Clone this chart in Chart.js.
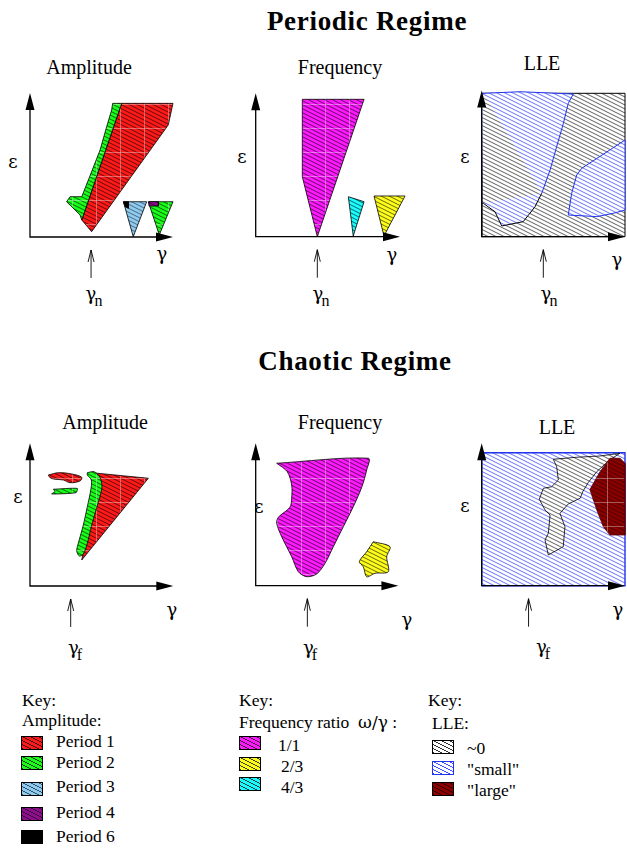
<!DOCTYPE html>
<html>
<head>
<meta charset="utf-8">
<title>Periodic and Chaotic Regime</title>
<script src="https://cdn.jsdelivr.net/npm/chart.js@4.4.1/dist/chart.umd.min.js"></script>
<style>
  html, body { margin: 0; padding: 0; background: #fff; }
  #page { position: relative; width: 627px; height: 849px; overflow: hidden;
          font-family: 'Liberation Serif', 'Times New Roman', serif; color: #000; }
  #page canvas { position: absolute; }
  .t { position: absolute; white-space: nowrap; line-height: 1; transform: translate(-50%, -50%); }
  .l { position: absolute; white-space: nowrap; line-height: 1; transform: translateY(-50%); font-size: 17.5px; }
  .h  { font-weight: bold; font-size: 27px; letter-spacing: 0.7px; }
  .pt { font-size: 20px; }
  .g  { font-size: 18px; font-family: 'DejaVu Serif', serif; }
  .sym { font-family: 'DejaVu Serif', serif; font-size: 17px; }
  .sub { font-size: 16px; font-family: 'Liberation Serif', serif; position: relative; top: 6px; margin-left: -2px; }
  .sw { position: absolute; width: 22px; height: 14px; box-sizing: border-box; border: 1px solid #000; }
</style>
</head>
<body>
<div id="page">
  <div class="t h" style="left:367px;top:21px">Periodic Regime</div>
  <div class="t h" style="left:355px;top:361px">Chaotic Regime</div>

  <div class="t pt" style="left:89px;top:67px">Amplitude</div>
  <div class="t pt" style="left:340px;top:67px">Frequency</div>
  <div class="t pt" style="left:542px;top:63px">LLE</div>
  <div class="t pt" style="left:105px;top:422px">Amplitude</div>
  <div class="t pt" style="left:340px;top:422px">Frequency</div>
  <div class="t pt" style="left:557px;top:427px">LLE</div>

  <div class="t g" style="left:13px;top:162px">ε</div>
  <div class="t g" style="left:242px;top:157px">ε</div>
  <div class="t g" style="left:465px;top:157px">ε</div>
  <div class="t g" style="left:18px;top:497px">ε</div>
  <div class="t g" style="left:259px;top:507px">ε</div>
  <div class="t g" style="left:465px;top:506px">ε</div>

  <div class="t g" style="left:162px;top:254px">γ</div>
  <div class="t g" style="left:392px;top:255px">γ</div>
  <div class="t g" style="left:617px;top:260px">γ</div>
  <div class="t g" style="left:172px;top:610px">γ</div>
  <div class="t g" style="left:407px;top:620px">γ</div>
  <div class="t g" style="left:618px;top:610px">γ</div>

  <div class="t g" style="left:94px;top:294px">γ<span class="sub">n</span></div>
  <div class="t g" style="left:321px;top:294px">γ<span class="sub">n</span></div>
  <div class="t g" style="left:549px;top:294px">γ<span class="sub">n</span></div>
  <div class="t g" style="left:75px;top:648px">γ<span class="sub">f</span></div>
  <div class="t g" style="left:310px;top:648px">γ<span class="sub">f</span></div>
  <div class="t g" style="left:543px;top:647px">γ<span class="sub">f</span></div>

  <!-- keys -->
  <div class="l" style="left:22px;top:701px">Key:</div>
  <div class="l" style="left:22px;top:721px">Amplitude:</div>
  <div class="sw" id="swP1" style="left:21px;top:736px"></div>
  <div class="sw" id="swP2" style="left:21px;top:756px"></div>
  <div class="sw" id="swP3" style="left:21px;top:782px"></div>
  <div class="sw" id="swP4" style="left:21px;top:807px"></div>
  <div class="sw" id="swP6" style="left:21px;top:830px"></div>
  <div class="l" style="left:56px;top:742px">Period 1</div>
  <div class="l" style="left:56px;top:763px">Period 2</div>
  <div class="l" style="left:56px;top:787px">Period 3</div>
  <div class="l" style="left:56px;top:813px">Period 4</div>
  <div class="l" style="left:56px;top:837px">Period 6</div>

  <div class="l" style="left:239px;top:701px">Key:</div>
  <div class="l" style="left:239px;top:723px">Frequency ratio&nbsp; <span class="sym">ω/γ</span> :</div>
  <div class="sw" id="swF11" style="left:239px;top:736px"></div>
  <div class="sw" id="swF23" style="left:239px;top:757px"></div>
  <div class="sw" id="swF43" style="left:239px;top:777px"></div>
  <div class="l" style="left:278px;top:746px">1/1</div>
  <div class="l" style="left:281px;top:767px">2/3</div>
  <div class="l" style="left:281px;top:788px">4/3</div>

  <div class="l" style="left:428px;top:701px">Key:</div>
  <div class="l" style="left:432px;top:724px">LLE:</div>
  <div class="sw" id="swL0" style="left:432px;top:740px"></div>
  <div class="sw" id="swLs" style="left:432px;top:761px;border-color:#2233ee"></div>
  <div class="sw" id="swLl" style="left:432px;top:782px"></div>
  <div class="l" style="left:467px;top:749px">~0</div>
  <div class="l" style="left:467px;top:770px">"small"</div>
  <div class="l" style="left:467px;top:791px">"large"</div>
</div>

<script>
// ─── Region outlines, (γ, ε) in axis units: 0 = origin, 100 = arrow tip ──
// Periodic regime — amplitude
const perAmpPeriod1  = [[64.1,92.8],[100,92.8],[96.7,77.8],[43.1,3.7],[36.2,11.8]];
const perAmpPeriod2  = [[57.8,92.8],[64.1,92.8],[36.2,11.8],[35,15.3],[25.6,24.5],[28,28],[36.2,28],
                        [40.8,39.6],[49,60.4],[53.6,76.6],[57.1,88.2]];
const perAmpPeriod3  = [[65.3,24.5],[81.6,24.5],[72.2,0.2]];
const perAmpPeriod2b = [[82.7,24.5],[100,24.5],[90.4,1.4]];
const perAmpPeriod6  = [[65.3,24.5],[68.8,24.5],[68.8,20],[66.5,21]];
const perAmpPeriod4  = [[83.2,24.5],[89.8,24.5],[89.8,21.5],[83.2,21.5]];

// Periodic regime — frequency ratio
const perFreq11 = [[32.3,95.8],[75.1,95.8],[42.7,0],[32.3,41.8]];
const perFreq43 = [[64.2,27.9],[75.1,24.4],[67.6,0.5]];
const perFreq23 = [[82,28.4],[103.5,28.4],[88.9,0.5]];

// Periodic regime — LLE
const perLleZero   = [[0,0],[100,0],[100,100],[0,100]];
const perLleSmallA = [[1.1,100],[26.7,101.1],[63.9,99.5],[60.4,93],[57,79.1],[52.3,62.8],[47.7,46.5],
                      [41.9,30.3],[37.2,20.9],[29,10.5],[14,7.5],[10.9,14],[9.3,17.4],[1.1,23.3],
                      [0,23.3],[0,100]];
const perLleSmallB = [[100,67.4],[69.8,47.7],[66.3,43],[62.8,30.3],[60.4,15.1],[80.3,14],[91.8,16.3],[100,18.6]];

// Chaotic regime — amplitude
const chaAmpPeriod1  = [[43,79.4],[82.6,75.5],[36.1,18.2],[38.4,29.9],[41.4,41.6],[44.9,53.3],
                        [47.7,62.6],[49.3,73.1],[46.5,78.5]];
const chaAmpPeriod2  = [[40,79.4],[44.7,80.1],[48.8,76.2],[50.2,69.6],[48.8,62.6],[46.1,53.3],[42.8,41.6],
                        [40,29.9],[37.2,22.4],[34.4,21],[32.6,24.7],[34,31],[37.2,42.7],[40,55.6],
                        [42.4,67.3],[42.8,74.3],[40,77.8]];
const chaAmpPeriod1b = [[12.8,77.8],[19.8,79.4],[29.1,78.5],[36.1,76.2],[34.9,73.6],[27.9,72.4],
                        [23.3,74.3],[17.4,74.8],[14,75.9]];
const chaAmpPeriod2b = [[16.3,67.8],[33,68.4],[32.1,65.4],[15.1,64.5],[17.4,66.1]];

// Chaotic regime — frequency ratio
const chaFreq11 = [[14.7,86],[78.9,89.5],[77.8,81.3],[74.3,69.1],[68.4,55.5],[61.4,41.4],[54.4,27.4],
                   [48.6,15.7],[42.7,8.2],[35.7,6.3],[29.9,9.8],[25.2,20.4],[18.2,34.4],[14.7,43.8],
                   [15.8,48],[24,55.1],[25.2,61.4],[25.2,70.7],[22.1,80.1]];
const chaFreq23 = [[82.4,30.9],[94.1,27.4],[91.8,20.4],[92.9,9.8],[83.6,8.7],[77.8,6.3],[75.4,13.3],
                   [72.6,16.9],[77.8,23.9]];

// Chaotic regime — LLE
const chaLleSmall = [[0,0],[100,0],[100,93.4],[0,93.4]];
const chaLleZero  = [[50,88.8],[66.3,90.2],[82.6,91.1],[96.5,93],[89.5,88.5],[80.3,80.1],[74.4,72.5],
                     [70.5,66],[68.8,61.5],[60.4,57.4],[54.6,50.8],[58.1,41.4],[56.9,27.4],[46.5,21.6],
                     [44.2,32.1],[46.5,36.8],[47.7,49.6],[44.2,53.2],[40.2,60.7],[43,68.4],[48.8,69.5],
                     [53.5,74.2],[52.3,83.6]];
const chaLleLarge = [[89.5,89.5],[96.5,89.5],[100,86],[100,35.6],[89.5,35.6],[84.9,41.4],[80.3,53.2],
                     [75.5,67.5],[82.6,80.1]];

// γn / γf marker positions on the γ axis
const perMarks = [42.7, 42.7, 43.0];
const chaMarks = [28.4, 36.2, 32.7];

// ─── Hatch fills ──────────────────────────────────────────────────
function hatch(bg, line, grid) {
  const c = document.createElement('canvas');
  c.width = 24; c.height = 24;
  const g = c.getContext('2d');
  if (bg) { g.fillStyle = bg; g.fillRect(0, 0, 24, 24); }
  g.strokeStyle = line; g.lineWidth = 0.8;
  for (let k = -4; k <= 8; k++) {
    g.beginPath(); g.moveTo(-4, -2 + 4 * k); g.lineTo(28, 14 + 4 * k); g.stroke();
  }
  if (grid) {
    g.strokeStyle = 'rgba(255,255,255,0.45)'; g.lineWidth = 0.8;
    g.beginPath(); g.moveTo(0.5, 0); g.lineTo(0.5, 24); g.moveTo(0, 0.5); g.lineTo(24, 0.5); g.stroke();
  }
  return g.createPattern(c, 'repeat');
}

const FILL = {
  red:     hatch('#ff1a1a', 'rgba(0,0,0,0.75)', true),
  green:   hatch('#1aff1a', 'rgba(0,0,0,0.75)', true),
  blue:    hatch('#8ecbf0', 'rgba(0,0,0,0.6)', false),
  purple:  hatch('#8e0e8e', 'rgba(0,0,0,0.6)', true),
  black:   '#000',
  magenta: hatch('#ff19ff', 'rgba(0,0,0,0.75)', true),
  yellow:  hatch('#ffff1a', 'rgba(0,0,0,0.75)', false),
  cyan:    hatch('#19ffff', 'rgba(0,0,0,0.75)', false),
  zero:    hatch('#ffffff', 'rgba(0,0,0,0.8)', false),
  small:   hatch('#ffffff', 'rgba(40,60,255,0.9)', false),
  large:   hatch('#8a0000', 'rgba(0,0,0,0.55)', true),
};
const BLUE = '#2233ee';

const closed = a => a.concat([a[0]]).map(([x, y]) => ({ x, y }));

function shape(arr, bg, more) {
  return Object.assign({
    data: closed(arr), showLine: true, fill: 'shape', backgroundColor: bg,
    borderColor: '#000', borderWidth: 0.8, pointRadius: 0, tension: 0,
  }, more || {});
}

// axes with arrowheads, LLE frame sits under them, γ marker arrow below
const axesPlugin = {
  id: 'axes',
  afterDatasetsDraw(chart, args, opts) {
    const { ctx, scales: { x, y } } = chart;
    const x0 = x.getPixelForValue(0), y0 = y.getPixelForValue(0);
    const xe = x.getPixelForValue(100), ye = y.getPixelForValue(opts.yTop);
    ctx.save();
    ctx.strokeStyle = '#000'; ctx.fillStyle = '#000'; ctx.lineWidth = 1.3;
    ctx.beginPath();
    ctx.moveTo(x0, ye + 10); ctx.lineTo(x0, y0); ctx.lineTo(xe - 10, y0);
    ctx.stroke();
    ctx.beginPath();
    ctx.moveTo(xe, y0); ctx.lineTo(xe - 17, y0 - 4.5); ctx.lineTo(xe - 17, y0 + 4.5); ctx.closePath();
    ctx.moveTo(x0, ye); ctx.lineTo(x0 - 4.5, ye + 17); ctx.lineTo(x0 + 4.5, ye + 17); ctx.closePath();
    ctx.fill();
    const mx = x.getPixelForValue(opts.mark);
    ctx.lineWidth = 0.9;
    ctx.beginPath();
    ctx.moveTo(mx, y0 + 41); ctx.lineTo(mx, y0 + 13);
    ctx.moveTo(mx - 3, y0 + 25); ctx.lineTo(mx, y0 + 13); ctx.lineTo(mx + 3, y0 + 25);
    ctx.stroke();
    ctx.restore();
  }
};

// box: canvas left/top/width/height on the page, axis: origin x/y and pixels per 100 units
const PANELS = [
  { box: [0, 80, 205, 205],   axis: [30, 237, 143, 144],       yTop: 100, mark: perMarks[0], sets: [
      shape(perAmpPeriod1, FILL.red), shape(perAmpPeriod2, FILL.green),
      shape(perAmpPeriod3, FILL.blue), shape(perAmpPeriod2b, FILL.green),
      shape(perAmpPeriod6, FILL.black), shape(perAmpPeriod4, FILL.purple) ] },
  { box: [205, 80, 210, 205], axis: [255.7, 236.7, 144.3, 143.4], yTop: 100, mark: perMarks[1], sets: [
      shape(perFreq11, FILL.magenta), shape(perFreq43, FILL.cyan), shape(perFreq23, FILL.yellow) ] },
  { box: [415, 80, 212, 205], axis: [481.7, 236.7, 143.3, 143.4], yTop: 102, mark: perMarks[2], sets: [
      shape(perLleZero, FILL.zero, { borderWidth: 1 }),
      shape(perLleSmallA, FILL.small, { borderWidth: 1,
        segment: { borderColor: c => (c.p0DataIndex >= 7 && c.p0DataIndex < 14) ? '#000' : BLUE } }),
      shape(perLleSmallB, FILL.small, { borderWidth: 1, borderColor: BLUE }) ] },
  { box: [0, 430, 205, 205],  axis: [30, 586, 143.3, 142.7],    yTop: 100, mark: chaMarks[0], sets: [
      shape(chaAmpPeriod1, FILL.red), shape(chaAmpPeriod2, FILL.green, { tension: 0.3 }),
      shape(chaAmpPeriod1b, FILL.red, { tension: 0.35 }), shape(chaAmpPeriod2b, FILL.green, { tension: 0.2 }) ] },
  { box: [205, 430, 210, 205], axis: [255.7, 585.7, 142.7, 142.4], yTop: 100, mark: chaMarks[1], sets: [
      shape(chaFreq11, FILL.magenta, { tension: 0.3 }), shape(chaFreq23, FILL.yellow, { tension: 0.3 }) ] },
  { box: [415, 430, 212, 205], axis: [481.7, 585.7, 143.3, 142.4], yTop: 100, mark: chaMarks[2], sets: [
      shape(chaLleSmall, FILL.small, { borderWidth: 1.4, borderColor: BLUE }),
      shape(chaLleZero, FILL.zero), shape(chaLleLarge, FILL.large, { borderColor: '#5a0000' }) ] },
];

const page = document.getElementById('page');
PANELS.forEach(p => {
  const [L, T, W, H] = p.box;
  const [ox, oy, sx, sy] = p.axis;
  const cv = document.createElement('canvas');
  cv.width = W; cv.height = H;
  cv.style.left = L + 'px'; cv.style.top = T + 'px';
  cv.style.width = W + 'px'; cv.style.height = H + 'px';
  page.appendChild(cv);
  p.sets.forEach((d, i) => { d.order = -i; });
  new Chart(cv, {
    type: 'scatter',
    data: { datasets: p.sets },
    options: {
      responsive: false,
      animation: false,
      devicePixelRatio: 1,
      layout: { padding: 0 },
      scales: {
        x: { type: 'linear', display: false, min: (L - ox) / sx * 100, max: (L + W - ox) / sx * 100 },
        y: { type: 'linear', display: false, min: (oy - T - H) / sy * 100, max: (oy - T) / sy * 100 },
      },
      plugins: {
        legend: { display: false },
        tooltip: { enabled: false },
        axes: { yTop: p.yTop, mark: p.mark },
      },
    },
    plugins: [axesPlugin],
  });
});

// ─── Key swatches ─────────────────────────────────────────────────
const swHatch = (bg, line) =>
  `repeating-linear-gradient(27deg, ${line} 0 0.8px, transparent 0.8px 3.6px), ${bg}`;
const SWATCH = {
  swP1: swHatch('#ff1a1a', 'rgba(0,0,0,0.75)'),
  swP2: swHatch('#1aff1a', 'rgba(0,0,0,0.75)'),
  swP3: swHatch('#8ecbf0', 'rgba(0,0,0,0.6)'),
  swP4: swHatch('#8e0e8e', 'rgba(0,0,0,0.6)'),
  swP6: '#000',
  swF11: swHatch('#ff19ff', 'rgba(0,0,0,0.75)'),
  swF23: swHatch('#ffff1a', 'rgba(0,0,0,0.75)'),
  swF43: swHatch('#19ffff', 'rgba(0,0,0,0.75)'),
  swL0: swHatch('#ffffff', 'rgba(0,0,0,0.8)'),
  swLs: swHatch('#ffffff', 'rgba(40,60,255,0.9)'),
  swLl: swHatch('#8a0000', 'rgba(0,0,0,0.55)'),
};
Object.keys(SWATCH).forEach(id => { document.getElementById(id).style.background = SWATCH[id]; });
</script>
</body>
</html>
